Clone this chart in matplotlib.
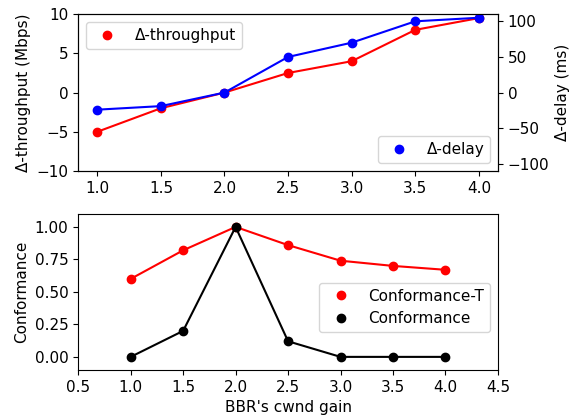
import matplotlib
matplotlib.use("Agg")
import matplotlib.pyplot as plt

plt.rcParams['font.size'] = 11

gain = [1.0, 1.5, 2.0, 2.5, 3.0, 3.5, 4.0]
d_throughput = [-5, -2, 0, 2.5, 4, 8, 9.5]
d_delay = [-24, -19, 0, 50, 70, 100, 105]
conf_t = [0.6, 0.82, 1.0, 0.86, 0.74, 0.70, 0.67]
conf = [0, 0.2, 1.0, 0.12, 0, 0, 0]

fig = plt.figure(figsize=(5.75, 4.17), dpi=100)

# arriba: throughput + delay (eje doble)
ax1 = fig.add_axes([0.136, 0.590, 0.730, 0.376])
ax1.plot(gain, d_throughput, color='red')
ax1.plot(gain, d_throughput, 'o', color='red', label='Δ-throughput')
ax1.set_ylim(-10, 10)
ax1.set_yticks([-10, -5, 0, 5, 10])
ax1.set_ylabel('Δ-throughput (Mbps)')
ax1.legend(loc='upper left', numpoints=1)

ax2 = ax1.twinx()
ax2.plot(gain, d_delay, color='blue')
ax2.plot(gain, d_delay, 'o', color='blue', label='Δ-delay')
ax2.set_ylim(-110, 110)
ax2.set_yticks([-100, -50, 0, 50, 100])
ax2.set_ylabel('Δ-delay (ms)')
ax2.legend(loc='lower right', numpoints=1)

# abajo: conformance
ax3 = fig.add_axes([0.136, 0.113, 0.730, 0.374])
ax3.plot(gain, conf_t, color='red')
ax3.plot(gain, conf_t, 'o', color='red', label='Conformance-T')
ax3.plot(gain, conf, color='black')
ax3.plot(gain, conf, 'o', color='black', label='Conformance')
ax3.set_xlim(0.5, 4.5)
ax3.set_ylim(-0.1, 1.1)
ax3.set_yticks([0, 0.25, 0.5, 0.75, 1.0])
ax3.set_xlabel("BBR's cwnd gain")
ax3.set_ylabel('Conformance')
ax3.legend(loc='center right', bbox_to_anchor=(1, 0.4), numpoints=1)

plt.savefig('out.png', dpi=100)
